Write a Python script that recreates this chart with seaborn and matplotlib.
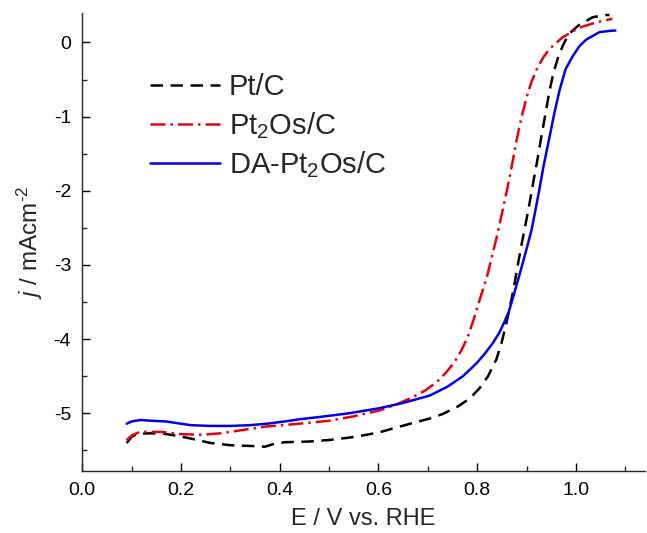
import numpy as np
import pandas as pd
import seaborn as sns
import matplotlib
matplotlib.use("Agg")
from matplotlib import pyplot as plt
from matplotlib.ticker import MultipleLocator

# ORR polarisation curves
pt_c_E = [0.09, 0.10, 0.11, 0.13, 0.16, 0.19, 0.22, 0.26, 0.30, 0.34, 0.37, 0.39, 0.41, 0.46,
          0.50, 0.55, 0.60, 0.637, 0.67, 0.704, 0.73, 0.758, 0.785, 0.805, 0.822, 0.839, 0.849,
          0.859, 0.869, 0.876, 0.882, 0.890, 0.898, 0.906, 0.914, 0.922, 0.930, 0.938, 0.946, 0.954,
          0.963, 0.973, 0.985, 1.007, 1.034, 1.058, 1.068]
pt_c_j = [-5.40, -5.32, -5.28, -5.27, -5.27, -5.30, -5.34, -5.40, -5.43, -5.44, -5.45, -5.41, -5.39, -5.38,
          -5.36, -5.32, -5.26, -5.19, -5.13, -5.07, -5.01, -4.92, -4.80, -4.66, -4.50, -4.27, -4.06,
          -3.79, -3.48, -3.24, -3.01, -2.72, -2.45, -2.17, -1.87, -1.58, -1.27, -0.97, -0.67, -0.42,
          -0.22, -0.05, 0.11, 0.24, 0.34, 0.37, 0.37]

pt2os_E = [0.09, 0.10, 0.117, 0.16, 0.20, 0.24, 0.28, 0.31, 0.37, 0.44, 0.50, 0.55, 0.603, 0.64,
           0.67, 0.695, 0.718, 0.737, 0.754, 0.768, 0.781, 0.793, 0.805, 0.819, 0.829, 0.839, 0.849,
           0.859, 0.868, 0.876, 0.884, 0.892, 0.900, 0.910, 0.922, 0.934, 0.946, 0.973, 1.007,
           1.041, 1.074]
pt2os_j = [-5.36, -5.30, -5.25, -5.25, -5.28, -5.29, -5.27, -5.24, -5.18, -5.14, -5.10, -5.04, -4.96, -4.87,
           -4.78, -4.69, -4.58, -4.45, -4.31, -4.15, -3.97, -3.73, -3.47, -3.18, -2.91, -2.64, -2.34,
           -2.03, -1.74, -1.45, -1.18, -0.95, -0.74, -0.53, -0.34, -0.20, -0.09, 0.07, 0.20,
           0.27, 0.32]

da_E = [0.09, 0.10, 0.117, 0.14, 0.17, 0.20, 0.22, 0.26, 0.30, 0.34, 0.374, 0.41, 0.44, 0.48,
        0.54, 0.603, 0.65, 0.704, 0.74, 0.771, 0.798, 0.815, 0.832, 0.845, 0.855, 0.864, 0.872,
        0.882, 0.892, 0.901, 0.910, 0.918, 0.926, 0.934, 0.942, 0.950, 0.957, 0.967, 0.979,
        0.993, 1.007, 1.021, 1.048, 1.074, 1.08]
da_j = [-5.14, -5.11, -5.09, -5.10, -5.11, -5.14, -5.16, -5.17, -5.17, -5.16, -5.14, -5.11, -5.08, -5.05,
        -5.00, -4.93, -4.86, -4.76, -4.64, -4.50, -4.33, -4.20, -4.05, -3.91, -3.77, -3.63, -3.45,
        -3.22, -2.98, -2.76, -2.53, -2.26, -1.98, -1.68, -1.42, -1.16, -0.93, -0.64, -0.36,
        -0.19, -0.05, 0.04, 0.14, 0.16, 0.16]

names = ["Pt/C", "Pt$_2$Os/C", "DA-Pt$_2$Os/C"]
colors = ["black", "#e8000b", "#0000e6"]

df = pd.concat([
    pd.DataFrame({"E": pt_c_E, "j": pt_c_j, "sample": names[0]}),
    pd.DataFrame({"E": pt2os_E, "j": pt2os_j, "sample": names[1]}),
    pd.DataFrame({"E": da_E, "j": da_j, "sample": names[2]}),
], ignore_index=True)

sns.set_style("ticks")
plt.rcParams["font.family"] = ["Liberation Sans", "DejaVu Sans"]
plt.rcParams["mathtext.fontset"] = "custom"
plt.rcParams["mathtext.rm"] = "Liberation Sans"
plt.rcParams["mathtext.it"] = "Liberation Sans:italic"
plt.rcParams["axes.unicode_minus"] = False
plt.rcParams["axes.linewidth"] = 1.0

fig, ax = plt.subplots(figsize=(6.47, 5.33), dpi=100)
fig.subplots_adjust(left=0.127, right=0.997, bottom=0.116, top=0.976)

sns.lineplot(data=df, x="E", y="j", hue="sample", style="sample",
             palette=dict(zip(names, colors)),
             dashes={names[0]: (5, 3), names[1]: (6, 2, 1, 2), names[2]: ""},
             linewidth=1.8, sort=False, estimator=None, ax=ax)

ax.set_xlim(0, 1.14)
ax.set_ylim(-5.78, 0.4)
ax.xaxis.set_major_locator(MultipleLocator(0.2))
ax.xaxis.set_minor_locator(MultipleLocator(0.1))
ax.yaxis.set_major_locator(MultipleLocator(1))
ax.yaxis.set_minor_locator(MultipleLocator(0.5))
ax.set_xticks([0.0, 0.2, 0.4, 0.6, 0.8, 1.0])
ax.set_xticklabels(["0.0", "0.2", "0.4", "0.6", "0.8", "1.0"])
ax.tick_params(which="major", direction="in", length=6, width=1.0, labelsize=14, pad=8, colors="black")
ax.tick_params(which="minor", direction="in", length=3.5, width=1.0)
sns.despine(ax=ax)

ax.set_xlabel("E / V vs. RHE", fontsize=17, labelpad=6)
ax.set_ylabel(r"$j$ / mAcm$^{\text{-2}}$", fontsize=17.5, labelpad=6)

handles, labels = ax.get_legend_handles_labels()
ax.legend(handles, labels, loc="upper left", bbox_to_anchor=(0.1, 0.894), frameon=False,
          fontsize=21, handlelength=2.4, handletextpad=0.3, labelspacing=0.3, borderaxespad=0)

fig.savefig("out.png", dpi=100)
